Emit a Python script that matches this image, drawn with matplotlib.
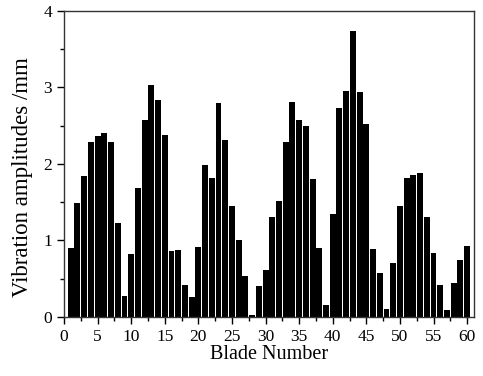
import matplotlib
matplotlib.use("Agg")
import matplotlib.pyplot as plt
from matplotlib.ticker import MultipleLocator

blades = list(range(1, 61))
amplitudes = [0.90, 1.49, 1.84, 2.29, 2.36, 2.40, 2.29, 1.23, 0.28, 0.82,
              1.68, 2.57, 3.03, 2.83, 2.38, 0.86, 0.88, 0.42, 0.26, 0.91,
              1.99, 1.82, 2.79, 2.31, 1.45, 1.01, 0.53, 0.02, 0.40, 0.62,
              1.31, 1.52, 2.29, 2.81, 2.57, 2.50, 1.80, 0.90, 0.16, 1.34,
              2.73, 2.95, 3.74, 2.94, 2.52, 0.89, 0.57, 0.11, 0.70, 1.45,
              1.82, 1.86, 1.88, 1.31, 0.83, 0.42, 0.09, 0.45, 0.74, 0.93]

plt.rcParams['font.family'] = ['Liberation Serif', 'DejaVu Serif']

fig = plt.figure(figsize=(4.83, 3.76), dpi=100)
ax = fig.add_axes([0.1325, 0.157, 0.8485, 0.814])
ax.bar(blades, amplitudes, width=0.88, color='black', edgecolor='none')
ax.set_xlim(0, 61)
ax.set_ylim(0, 4)
ax.xaxis.set_major_locator(MultipleLocator(5))
ax.xaxis.set_minor_locator(MultipleLocator(2.5))
ax.yaxis.set_major_locator(MultipleLocator(1))
ax.yaxis.set_minor_locator(MultipleLocator(0.5))
ax.tick_params(which='both', direction='out', top=False, right=False, labelsize=12.5, width=1)
ax.tick_params(which='major', length=5)
ax.tick_params(which='minor', length=3)
for s in ax.spines.values():
    s.set_linewidth(1)
    s.set_color('#333333')
ax.set_xlabel('Blade Number', fontsize=14.5, labelpad=0)
ax.set_ylabel('Vibration amplitudes /mm', fontsize=16.5)
ax.yaxis.set_label_coords(-0.075, 0.457)
fig.savefig('out.png', dpi=100)
